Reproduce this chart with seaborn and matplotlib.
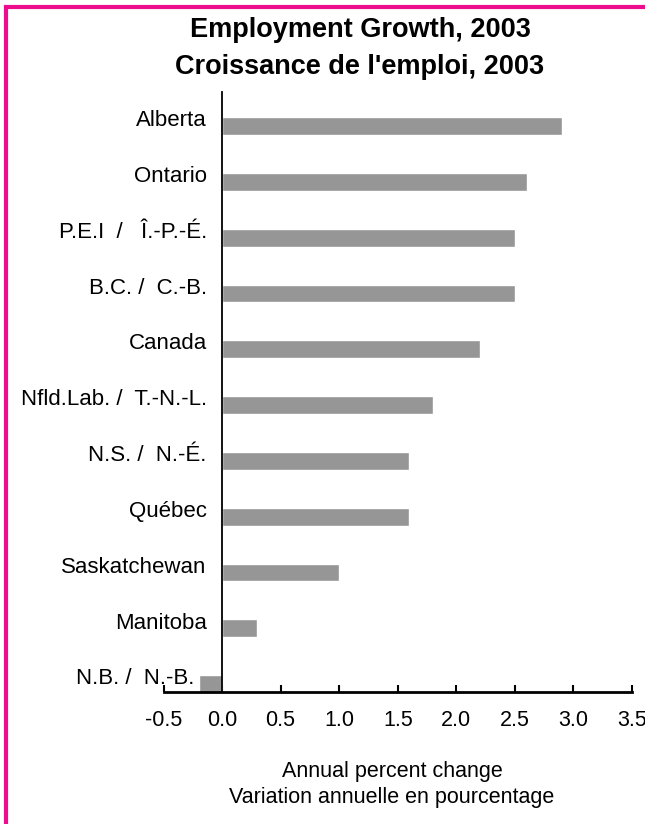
import numpy as np
import pandas as pd
import matplotlib
matplotlib.use("Agg")
import matplotlib.pyplot as plt
import matplotlib.transforms as mtransforms
from matplotlib.patches import Rectangle
import seaborn as sns

# data
provinces = ["Alberta", "Ontario", "P.E.I  /   Î.-P.-É.", "B.C. /  C.-B.", "Canada",
             "Nfld.Lab. /  T.-N.-L.", "N.S. /  N.-É.", "Québec", "Saskatchewan",
             "Manitoba", "N.B. /  N.-B."]
growth = [2.9, 2.6, 2.5, 2.5, 2.2, 1.8, 1.6, 1.6, 1.0, 0.3, -0.2]
xticks = [-0.5, 0.0, 0.5, 1.0, 1.5, 2.0, 2.5, 3.0, 3.5]

df = pd.DataFrame({"province": provinces, "growth": growth})

sns.set_style("white")
plt.rcParams["font.family"] = ["Liberation Sans", "DejaVu Sans"]
plt.rcParams["text.color"] = "black"

fig = plt.figure(figsize=(6.45, 8.24), dpi=100)
ax = fig.add_axes([163.5 / 645, 1 - 692 / 824, (632 - 163.5) / 645, (692 - 92) / 824])

sns.barplot(data=df, x="growth", y="province", orient="h", color="#969696",
            saturation=1, width=0.32, ax=ax)

ax.set_xlim(-0.5, 3.5)
ax.set_ylim(10.14, -0.61)
ax.set_xticks(xticks, labels=[f"{t:.1f}" for t in xticks])
ax.set_yticks(np.arange(len(provinces)) - 0.14, labels=provinces)
ax.set_xlabel("")
ax.set_ylabel("")

ax.spines["left"].set_position(("data", 0))
ax.spines["left"].set_linewidth(1.3)
ax.spines["bottom"].set_linewidth(2)
ax.spines["top"].set_visible(False)
ax.spines["right"].set_visible(False)
for s in ["left", "bottom"]:
    ax.spines[s].set_color("black")

ax.tick_params(axis="x", direction="in", length=5, width=1.5, pad=13,
               labelsize=15.5, colors="black", bottom=True)
ax.tick_params(axis="y", length=0, pad=11, labelsize=16, colors="black")

# the label of the negative bar sits left of the bar, like in the original
neg = ax.get_yticklabels()[-1]
neg.set_transform(neg.get_transform() + mtransforms.ScaledTranslation(-0.12, 0, fig.dpi_scale_trans))

fig.text(360 / 645, 1 - 30 / 824, "Employment Growth, 2003", ha="center", va="center",
         fontsize=19.5, fontweight="bold")
fig.text(360 / 645, 1 - 67 / 824, "Croissance de l'emploi, 2003", ha="center", va="center",
         fontsize=19.5, fontweight="bold")
fig.text(392 / 645, 1 - 771 / 824, "Annual percent change", ha="center", va="center",
         fontsize=15.5)
fig.text(392 / 645, 1 - 797 / 824, "Variation annuelle en pourcentage", ha="center",
         va="center", fontsize=15.5)

# magenta frame (right and bottom edges fall outside the picture)
fig.patches.append(Rectangle((6 / 645, -0.1), 1.2, 1 - 7 / 824 + 0.1,
                             transform=fig.transFigure, fill=False,
                             edgecolor="#EC0C8C", linewidth=3, zorder=10))

fig.savefig("out.png", dpi=100)
